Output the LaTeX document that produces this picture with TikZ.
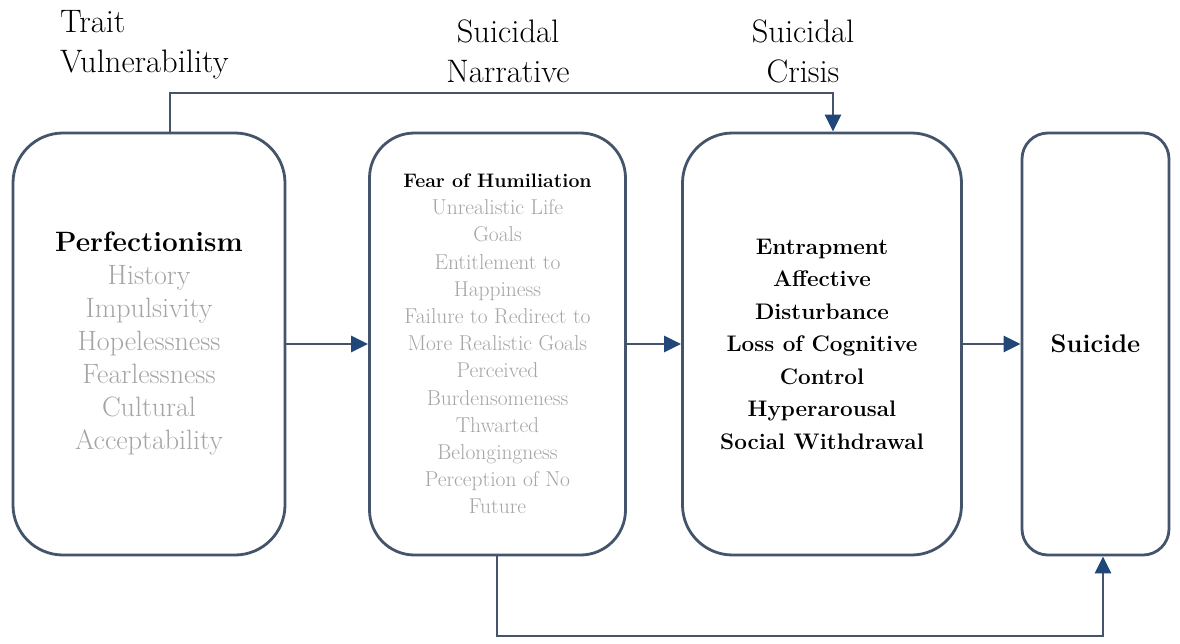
\documentclass[tikz,border=0pt]{standalone}
\usetikzlibrary{arrows.meta}
\definecolor{linecol}{RGB}{68,84,106}
\definecolor{tipcol}{RGB}{33,70,120}
\definecolor{textgray}{RGB}{165,165,165}
\tikzset{
  boxstyle/.style={draw=linecol, line width=2.8pt, fill=white, inner sep=0pt, align=center, text=black},
  conn/.style={draw=linecol, line width=2.8pt},
  connarrow/.style={conn, -{Triangle[length=17pt,width=16pt,color=tipcol]}},
  label/.style={inner sep=0pt, font=\fontsize{32.5}{40}\selectfont}
}
\begin{document}
\begin{tikzpicture}[x=1pt,y=-1pt]
\useasboundingbox[fill=white] (0,0) rectangle (1180,643);

% boxes
\node[boxstyle, rounded corners=50pt, minimum width=272pt, minimum height=422pt,
      font=\fontsize{28}{33}\selectfont] (b1) at (149,344)
  {{\bfseries\fontsize{28}{33}\selectfont Perfectionism}\\
   \textcolor{textgray}{History}\\
   \textcolor{textgray}{Impulsivity}\\
   \textcolor{textgray}{Hopelessness}\\
   \textcolor{textgray}{Fearlessness}\\
   \textcolor{textgray}{Cultural}\\
   \textcolor{textgray}{Acceptability}};

\node[boxstyle, rounded corners=45pt, minimum width=256pt, minimum height=422pt,
      font=\fontsize{21.5}{27.2}\selectfont] (b2) at (497.5,344)
  {{\bfseries\fontsize{19.5}{27.2}\selectfont Fear of Humiliation}\\
   \textcolor{textgray}{Unrealistic Life}\\
   \textcolor{textgray}{Goals}\\
   \textcolor{textgray}{Entitlement to}\\
   \textcolor{textgray}{Happiness}\\
   \textcolor{textgray}{Failure to Redirect to}\\
   \textcolor{textgray}{More Realistic Goals}\\
   \textcolor{textgray}{Perceived}\\
   \textcolor{textgray}{Burdensomeness}\\
   \textcolor{textgray}{Thwarted}\\
   \textcolor{textgray}{Belongingness}\\
   \textcolor{textgray}{Perception of No}\\
   \textcolor{textgray}{Future}};

\node[boxstyle, rounded corners=50pt, minimum width=279pt, minimum height=422pt,
      font=\bfseries\fontsize{22.5}{32.5}\selectfont] (b3) at (822,344)
  {Entrapment\\ Affective\\ Disturbance\\ Loss of Cognitive\\ Control\\ Hyperarousal\\ Social Withdrawal};

\node[boxstyle, rounded corners=26pt, minimum width=147pt, minimum height=422pt,
      font=\bfseries\fontsize{25.5}{30}\selectfont] (b4) at (1095.5,344) {Suicide};

% labels
\node[label, anchor=base west] (l1a) at (60,32) {Trait};
\node[label, anchor=base west] (l1b) at (60,72) {Vulnerability};
\node[label, anchor=base] (l2a) at (508,42) {Suicidal};
\node[label, anchor=base] (l2b) at (508,82) {Narrative};
\node[label, anchor=base] (l3a) at (803,42) {Suicidal};
\node[label, anchor=base] (l3b) at (803,82) {Crisis};

% connectors
\draw[connarrow] (b1.east) -- (b2.west);
\draw[connarrow] (b2.east) -- (b3.west);
\draw[connarrow] (b3.east) -- (b4.west);

\coordinate (t1) at (170,93);
\coordinate (t2) at (833,93);
\draw[connarrow] (b1.north -| t1) -- (t1) -- (t2) -- (b3.north -| t2);

\coordinate (u1) at (497,636);
\coordinate (u2) at (1103,636);
\draw[connarrow] (b2.south -| u1) -- (u1) -- (u2) -- (b4.south -| u2);
\end{tikzpicture}
\end{document}
